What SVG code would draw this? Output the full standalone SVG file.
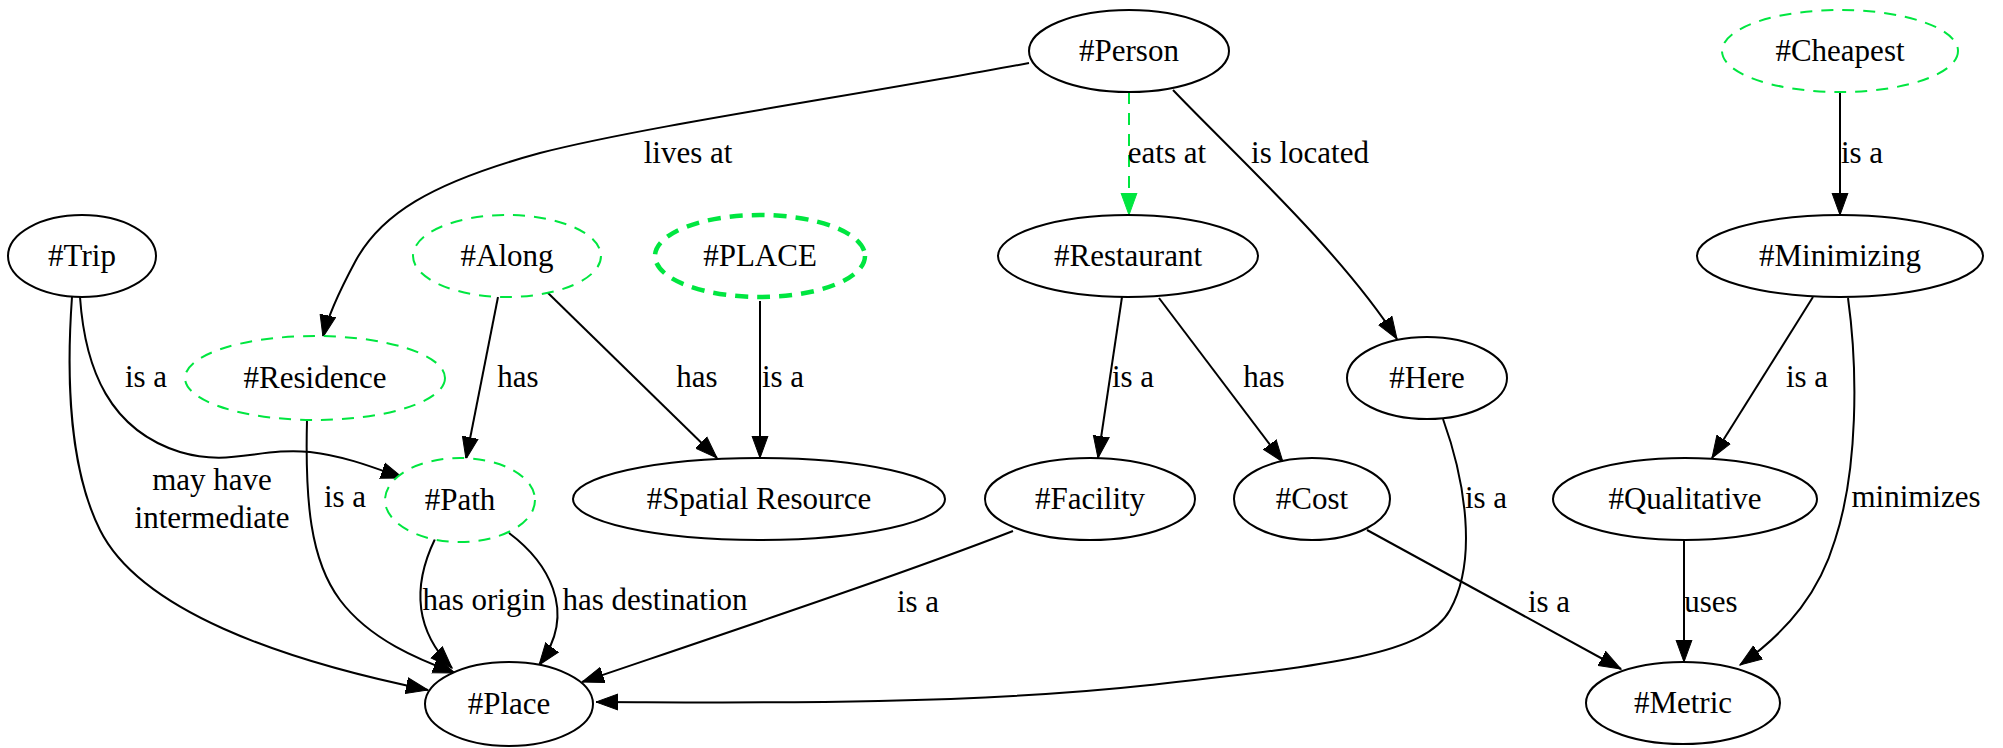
<svg xmlns="http://www.w3.org/2000/svg" width="2003" height="748" viewBox="0 0 2003 748">
<defs>
<style>
text{font-family:"Liberation Serif","Times New Roman",serif;font-size:31px;fill:#000;text-anchor:middle}
.n{fill:#fff;stroke:#000;stroke-width:2}
.g{fill:#fff;stroke:#00e640;stroke-width:2;stroke-dasharray:12 9}
.gb{fill:#fff;stroke:#00e640;stroke-width:4.5;stroke-dasharray:13 9}
.e{fill:none;stroke:#000;stroke-width:2;marker-end:url(#ah)}
.ge{fill:none;stroke:#00e640;stroke-width:2;stroke-dasharray:12 9;marker-end:url(#ahg)}
</style>
<marker id="ah" markerUnits="userSpaceOnUse" markerWidth="24" markerHeight="18" viewBox="0 0 24 18" refX="22" refY="9" orient="auto"><path d="M0,1 L22,9 L0,17 Z" fill="#000" stroke="#000" stroke-width="1"/></marker>
<marker id="ahg" markerUnits="userSpaceOnUse" markerWidth="24" markerHeight="18" viewBox="0 0 24 18" refX="22" refY="9" orient="auto"><path d="M0,1 L22,9 L0,17 Z" fill="#00e640" stroke="#00e640" stroke-width="1"/></marker>
</defs>
<rect width="2003" height="748" fill="#fff"/>
<g id="edges">
<path class="e" d="M1029,63 C860,95 650,125 540,153 C430,183 380,215 355,262 C340,290 328,315 323,337"/>
<text x="688" y="163">lives at</text>
<path class="ge" d="M1129,92 L1129,215"/>
<text x="1167" y="163">eats at</text>
<path class="e" d="M1173,90 C1230,150 1340,250 1397,339"/>
<text x="1310" y="163">is located</text>
<path class="e" d="M1840,93 L1840,215"/>
<text x="1862" y="163">is a</text>
<path class="e" d="M72,297 C66,380 70,470 100,530 C140,610 280,660 428,690"/>
<text x="212" y="490">may have</text>
<text x="212" y="528">intermediate</text>
<path class="e" d="M80,297 C85,370 110,430 180,452 C230,467 260,447 310,452 C345,456 375,468 403,478"/>
<text x="146" y="387">is a</text>
<path class="e" d="M498,297 L466,459"/>
<text x="518" y="387">has</text>
<path class="e" d="M547,292 L717,458"/>
<text x="697" y="387">has</text>
<path class="e" d="M760,301 L760,458"/>
<text x="783" y="387">is a</text>
<path class="e" d="M307,420 C305,500 310,560 340,600 C370,640 420,660 455,673"/>
<text x="345" y="507">is a</text>
<path class="e" d="M435,539 C420,570 405,620 452,668"/>
<text x="484" y="610">has origin</text>
<path class="e" d="M509,533 C545,560 580,610 539,665"/>
<text x="655" y="610">has destination</text>
<path class="e" d="M1013,531 C900,575 720,635 582,682"/>
<text x="918" y="612">is a</text>
<path class="e" d="M1443,419 C1465,480 1478,560 1450,610 C1425,655 1330,665 1150,685 C950,707 700,702 596,702"/>
<text x="1486" y="508">is a</text>
<path class="e" d="M1122,297 L1098,458"/>
<text x="1133" y="387">is a</text>
<path class="e" d="M1159,298 L1283,462"/>
<text x="1264" y="387">has</text>
<path class="e" d="M1367,530 L1621,669"/>
<text x="1549" y="612">is a</text>
<path class="e" d="M1813,297 L1712,458"/>
<text x="1807" y="387">is a</text>
<path class="e" d="M1848,298 C1858,370 1858,470 1835,540 C1820,590 1790,630 1740,665"/>
<text x="1916" y="507">minimizes</text>
<path class="e" d="M1684,541 L1684,662"/>
<text x="1711" y="612">uses</text>
</g>
<g id="person"><ellipse class="n" cx="1129" cy="51" rx="100" ry="41"/><text x="1129" y="61">#Person</text></g>
<g id="cheapest"><ellipse class="g" cx="1840" cy="51" rx="118" ry="41"/><text x="1840" y="61">#Cheapest</text></g>
<g id="trip"><ellipse class="n" cx="82" cy="256" rx="74" ry="41"/><text x="82" y="266">#Trip</text></g>
<g id="along"><ellipse class="g" cx="507" cy="256" rx="94" ry="41"/><text x="507" y="266">#Along</text></g>
<g id="place-upper"><ellipse class="gb" cx="760" cy="256" rx="105" ry="41"/><text x="760" y="266">#PLACE</text></g>
<g id="restaurant"><ellipse class="n" cx="1128" cy="256" rx="130" ry="41"/><text x="1128" y="266">#Restaurant</text></g>
<g id="minimizing"><ellipse class="n" cx="1840" cy="256" rx="143" ry="41"/><text x="1840" y="266">#Minimizing</text></g>
<g id="residence"><ellipse class="g" cx="315" cy="378" rx="130" ry="42"/><text x="315" y="388">#Residence</text></g>
<g id="here"><ellipse class="n" cx="1427" cy="378" rx="80" ry="41"/><text x="1427" y="388">#Here</text></g>
<g id="path"><ellipse class="g" cx="460" cy="500" rx="75" ry="42"/><text x="460" y="510">#Path</text></g>
<g id="spatial-resource"><ellipse class="n" cx="759" cy="499" rx="186" ry="41"/><text x="759" y="509">#Spatial Resource</text></g>
<g id="facility"><ellipse class="n" cx="1090" cy="499" rx="105" ry="41"/><text x="1090" y="509">#Facility</text></g>
<g id="cost"><ellipse class="n" cx="1312" cy="499" rx="78" ry="41"/><text x="1312" y="509">#Cost</text></g>
<g id="qualitative"><ellipse class="n" cx="1685" cy="499" rx="132" ry="41"/><text x="1685" y="509">#Qualitative</text></g>
<g id="place"><ellipse class="n" cx="509" cy="704" rx="84" ry="42"/><text x="509" y="714">#Place</text></g>
<g id="metric"><ellipse class="n" cx="1683" cy="703" rx="97" ry="41"/><text x="1683" y="713">#Metric</text></g>
</svg>
